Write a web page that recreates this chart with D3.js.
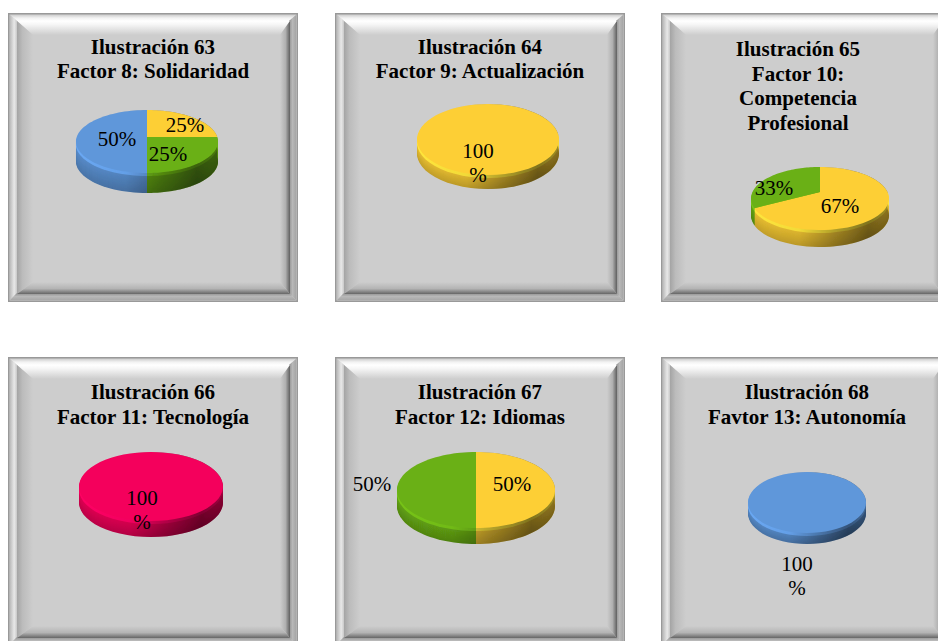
<!DOCTYPE html>
<html>
<head>
<meta charset="utf-8">
<script src="https://cdn.jsdelivr.net/npm/d3@7"></script>
<style>
  html, body { margin: 0; background: #fff; overflow: hidden; }
  text { font-family: "Liberation Serif", serif; fill: #000; text-anchor: middle; }
  .title { font-weight: bold; font-size: 21px; }
  .label { font-size: 21px; }
</style>
</head>
<body>
<svg width="938" height="641"></svg>
<script>
// chart values, one list per picture
const titles = [
  ['Ilustración 63', 'Factor 8: Solidaridad'],
  ['Ilustración 64', 'Factor 9: Actualización'],
  ['Ilustración 65', 'Factor 10:', 'Competencia', 'Profesional'],
  ['Ilustración 66', 'Factor 11: Tecnología'],
  ['Ilustración 67', 'Factor 12: Idiomas'],
  ['Ilustración 68', 'Favtor 13: Autonomía']
];
const values = [[25, 25, 50], [100], [67, 33], [100], [50, 50], [100]];
const sliceColors = [
  ['yellow', 'green', 'blue'],
  ['yellow'],
  ['yellow', 'green'],
  ['pink'],
  ['yellow', 'green'],
  ['blue']
];

const palette = { yellow: '#fdcf36', green: '#6bb016', blue: '#5f97da', pink: '#f4005b' };

// layout
const panelX = [8, 335, 661];
const panelY = [13, 357];
const panelW = 290;
const panelH = 289;
const titleX = [153, 480, 798, 153, 480, 807];
const titleY = [[54, 78], [54, 78], [56, 81, 105, 130], [399, 424], [399, 424], [399, 424]];
const pies = [
  { cx: 147, cy: 137, rx: 71, top: 27, bot: 36, depth: 20 },
  { cx: 488, cy: 134, rx: 71, top: 30, bot: 41, depth: 14 },
  { cx: 820, cy: 192, rx: 69, top: 25, bot: 38, depth: 17 },
  { cx: 151, cy: 484, rx: 72, top: 32, bot: 37, depth: 16 },
  { cx: 476, cy: 487, rx: 79, top: 35, bot: 41, depth: 16 },
  { cx: 807, cy: 502, rx: 59, top: 30, bot: 31, depth: 11 }
];
// [text, x, baseline]
const labels = [
  [['25%', 185, 132], ['25%', 168, 161], ['50%', 117, 146]],
  [['100', 478, 158], ['%', 478, 182]],
  [['67%', 840, 213], ['33%', 774, 195]],
  [['100', 142, 505], ['%', 142, 529]],
  [['50%', 512, 491], ['50%', 372, 491]],
  [['100', 797, 571], ['%', 797, 595]]
];

const svg = d3.select('svg');
const defs = svg.append('defs');

function gradient(id, x2, y2, stops) {
  const g = defs.append('linearGradient').attr('id', id)
    .attr('x1', 0).attr('y1', 0).attr('x2', x2).attr('y2', y2);
  stops.forEach(s => g.append('stop').attr('offset', s[0]).attr('stop-color', s[1]).attr('stop-opacity', s[2] === undefined ? 1 : s[2]));
}

gradient('bevelTop', 0, 1, [[0, '#ffffff'], [0.25, '#f6f6f6'], [1, '#cdcdcd']]);
gradient('bevelLeft', 1, 0, [[0, '#a4a4a4'], [0.35, '#bcbcbc'], [1, '#cdcdcd']]);
gradient('bevelRight', 1, 0, [[0, '#cdcdcd'], [0.55, '#b0b0b0'], [1, '#5f5f5f']]);
gradient('bevelBottom', 0, 1, [[0, '#cdcdcd'], [0.55, '#b4b4b4'], [1, '#666666']]);
gradient('ringTop', 0, 1, [[0, '#d0d0d0'], [0.5, '#f2f2f2'], [1, '#ffffff']]);
gradient('ringLeft', 1, 0, [[0, '#bbbbbb'], [0.6, '#e8e8e8'], [1, '#c8c8c8']]);
gradient('ringRight', 1, 0, [[0, '#8f8f8f'], [0.5, '#b8b8b8'], [1, '#a6a6a6']]);
gradient('ringBottom', 0, 1, [[0, '#8f8f8f'], [0.5, '#b8b8b8'], [1, '#a8a8a8']]);
gradient('sideShade', 1, 0, [[0, '#000', 0], [0.35, '#000', 0.05], [0.6, '#000', 0.3], [0.85, '#000', 0.5], [1, '#000', 0.38]]);

const soft = defs.append('filter').attr('id', 'soft');
soft.append('feGaussianBlur').attr('stdDeviation', 0.6);

// four mitred strips between two nested boxes
function ring(g, o, i, names) {
  const strips = [
    [[o.x0, o.y0], [o.x1, o.y0], [i.x1, i.y0], [i.x0, i.y0]],
    [[o.x0, o.y0], [i.x0, i.y0], [i.x0, i.y1], [o.x0, o.y1]],
    [[i.x1, i.y0], [o.x1, o.y0], [o.x1, o.y1], [i.x1, i.y1]],
    [[i.x0, i.y1], [i.x1, i.y1], [o.x1, o.y1], [o.x0, o.y1]]
  ];
  g.selectAll(null)
    .data(strips)
    .join('polygon')
    .attr('points', d => d.join(' '))
    .attr('fill', (d, k) => `url(#${names}${['Top', 'Left', 'Right', 'Bottom'][k]})`);
}

const panels = d3.cross(panelY, panelX, (y, x) => ({ x, y }));
panels.forEach(p => {
  const g = svg.append('g');
  const box = (l, t, r, b) => ({ x0: p.x + l, y0: p.y + t, x1: p.x + r, y1: p.y + b });
  g.append('rect').attr('x', p.x).attr('y', p.y).attr('width', panelW).attr('height', panelH).attr('fill', '#cdcdcd');
  ring(g, box(2, 2, panelW - 2, panelH - 2), box(9, 8, panelW - 9, panelH - 9), 'ring');
  ring(g, box(9, 8, panelW - 8, panelH - 8), box(25, 22, panelW - 18, panelH - 20), 'bevel');
  g.append('rect').attr('x', p.x + 0.75).attr('y', p.y + 0.75).attr('width', panelW - 1.5).attr('height', panelH - 1.5)
    .attr('fill', 'none').attr('stroke', '#999').attr('stroke-width', 1.5);
});

const pieGen = d3.pie().sort(null).value(d => d);
const TAU = Math.PI * 2;

pies.forEach((geo, n) => {
  // perspective: the near half of the disc comes out bigger than the far half
  const k = (geo.bot - geo.top) / (geo.bot + geo.top);
  const ry = geo.top * (1 + k);
  const halfW = geo.rx * Math.sqrt(1 - k * k);
  const rim = (a0, a1) => d3.range(0, 61).map(j => {
    const a = a0 + (a1 - a0) * j / 60;
    const v = -Math.cos(a);
    const s = 1 / (1 - k * v);
    return [geo.cx + halfW * Math.sin(a) * s, geo.cy + ry * v * s];
  });
  const line = d3.line();
  const slice = d => line([[geo.cx, geo.cy], ...rim(d.startAngle, d.endAngle)]) + 'Z';

  const arcs = pieGen(values[n]);
  const g = svg.append('g').attr('filter', 'url(#soft)');

  // side wall, a stack of copies going up from the bottom
  d3.range(geo.depth, 0, -1).forEach(step => {
    const t = step / geo.depth;
    g.append('g').attr('transform', `translate(0,${step})`)
      .selectAll('path')
      .data(arcs)
      .join('path')
      .attr('d', slice)
      .attr('fill', (d, i) => {
        const c = d3.color(palette[sliceColors[n][i]]);
        return step <= 3 ? c.brighter(0.3) : d3.interpolateRgb(c.darker(0.15), c.darker(0.7))(t);
      });
  });

  // darkens the wall towards the right
  const hull = line([...rim(-TAU / 4, TAU / 4), ...rim(TAU / 4, TAU * 3 / 4).map(q => [q[0], q[1] + geo.depth])]) + 'Z';
  g.append('path').attr('d', hull).attr('fill', 'url(#sideShade)');

  g.selectAll('path.face')
    .data(arcs)
    .join('path')
    .attr('class', 'face')
    .attr('d', slice)
    .attr('fill', (d, i) => palette[sliceColors[n][i]]);

  const t = svg.append('g');
  t.selectAll('text.title')
    .data(titles[n])
    .join('text')
    .attr('class', 'title')
    .attr('x', titleX[n])
    .attr('y', (d, i) => titleY[n][i])
    .text(d => d);
  t.selectAll('text.label')
    .data(labels[n])
    .join('text')
    .attr('class', 'label')
    .attr('x', d => d[1])
    .attr('y', d => d[2])
    .text(d => d[0]);
});
</script>
</body>
</html>
